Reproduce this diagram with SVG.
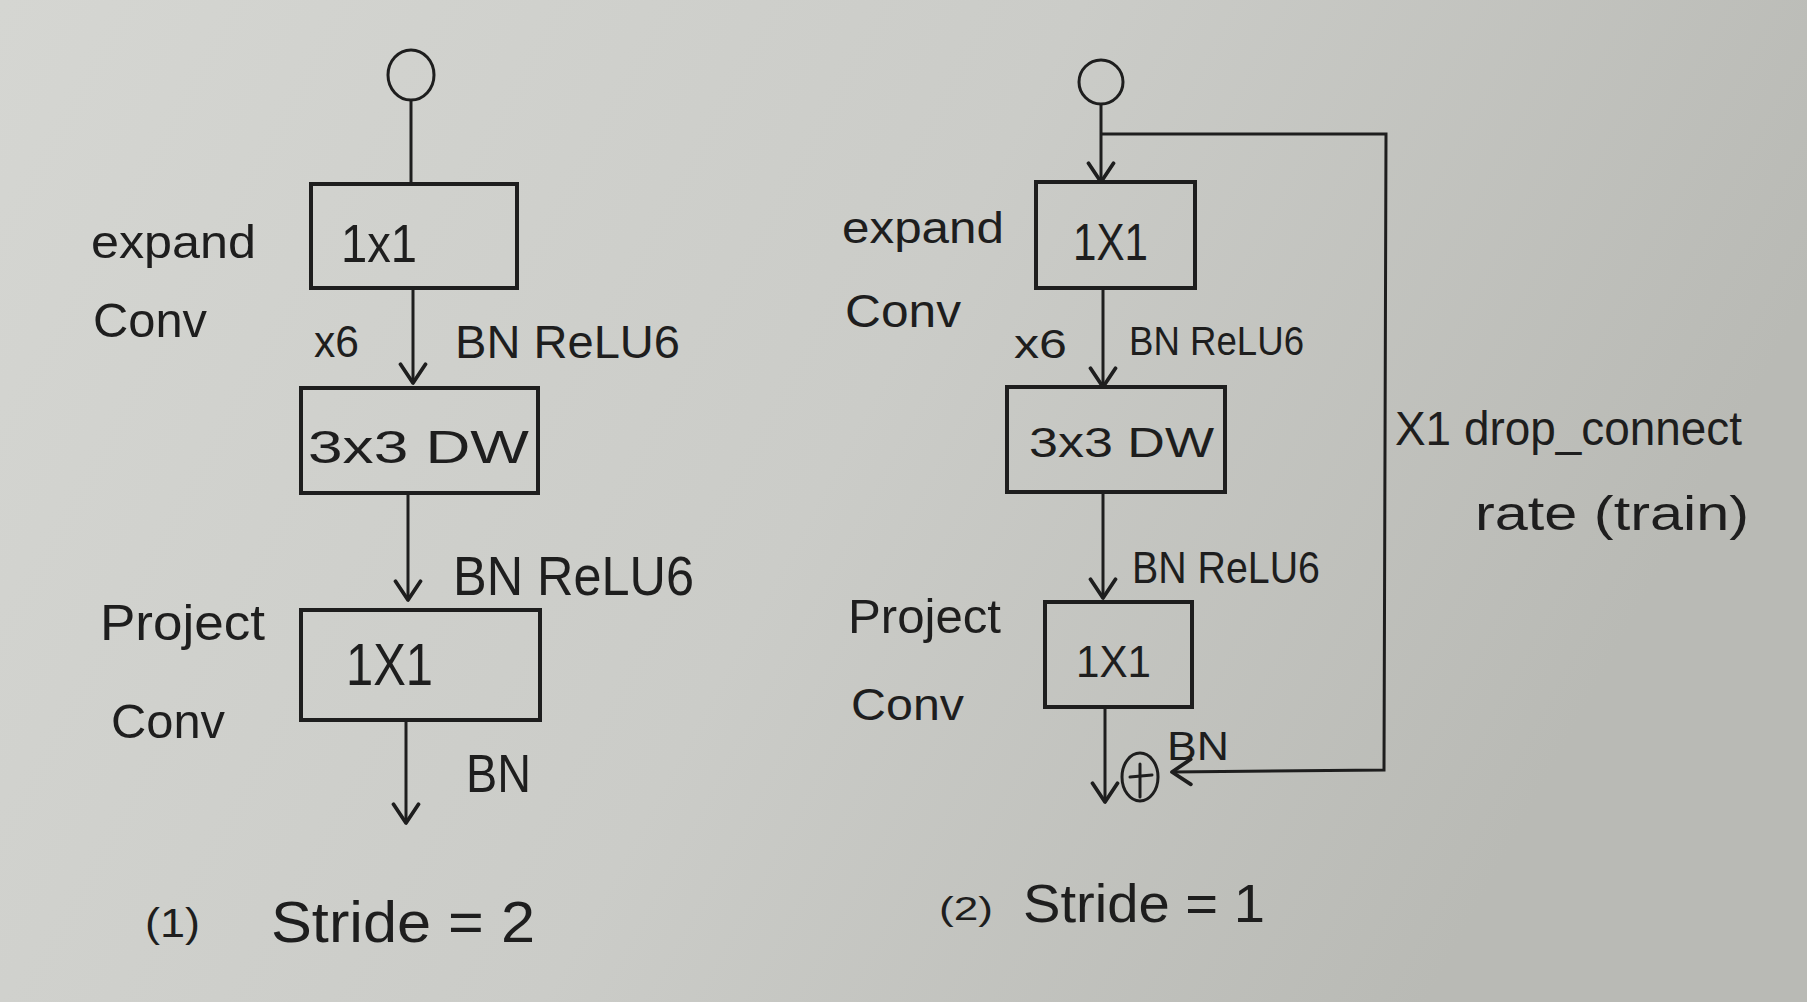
<svg xmlns="http://www.w3.org/2000/svg" width="1807" height="1002" viewBox="0 0 1807 1002">
  <defs>
    <linearGradient id="paper" x1="0" y1="0" x2="1" y2="0.3">
      <stop offset="0" stop-color="#d5d6d2"/>
      <stop offset="0.55" stop-color="#cbccc8"/>
      <stop offset="1" stop-color="#b9bab5"/>
    </linearGradient>
    <marker id="arr" markerUnits="userSpaceOnUse" markerWidth="30" markerHeight="30" viewBox="-16 -12 18 24" refX="0" refY="0" orient="auto">
      <path d="M-15,-10 L0,0 L-15,10" fill="none" stroke="#1e1e1e" stroke-width="3" stroke-linecap="round" stroke-linejoin="round"/>
    </marker>
    <style>
      .ink{fill:none;stroke:#1e1e1e;stroke-width:3;stroke-linecap:round;stroke-linejoin:round}
      .box{fill:none;stroke:#1e1e1e;stroke-width:4}
      .edge{fill:none;stroke:#1e1e1e;stroke-width:3}
      .t{font-family:"Liberation Sans","DejaVu Sans",sans-serif;fill:#1e1e1e}
    </style>
  </defs>
  <rect x="0" y="0" width="1807" height="1002" fill="url(#paper)"/>

  <g id="connectors">
    <line class="edge" x1="411" y1="100" x2="411" y2="184"/>
    <line class="edge" x1="413" y1="288" x2="413" y2="383" marker-end="url(#arr)"/>
    <line class="edge" x1="408" y1="493" x2="408" y2="600" marker-end="url(#arr)"/>
    <line class="edge" x1="406" y1="720" x2="406" y2="823" marker-end="url(#arr)"/>

    <line class="edge" x1="1101" y1="104" x2="1101" y2="182" marker-end="url(#arr)"/>
    <polyline class="edge" points="1101,134 1386,134 1384,770 1172,772" marker-end="url(#arr)"/>
    <line class="edge" x1="1103" y1="288" x2="1103" y2="387" marker-end="url(#arr)"/>
    <line class="edge" x1="1103" y1="492" x2="1103" y2="598" marker-end="url(#arr)"/>
    <line class="edge" x1="1105" y1="707" x2="1105" y2="802" marker-end="url(#arr)"/>
  </g>

  <!-- Left diagram -->
  <g id="l-input">
    <ellipse class="ink" cx="411" cy="75" rx="23" ry="25"/>
  </g>
  <g id="l-expand">
    <rect class="box" x="311" y="184" width="206" height="104"/>
    <text class="t" x="341" y="262" font-size="54" textLength="76" lengthAdjust="spacingAndGlyphs">1x1</text>
    <text class="t" x="91" y="258" font-size="46" textLength="165" lengthAdjust="spacingAndGlyphs">expand</text>
    <text class="t" x="93" y="337" font-size="48" textLength="114" lengthAdjust="spacingAndGlyphs">Conv</text>
    <text class="t" x="314" y="357" font-size="44" textLength="45" lengthAdjust="spacingAndGlyphs">x6</text>
    <text class="t" x="455" y="358" font-size="46" textLength="225" lengthAdjust="spacingAndGlyphs">BN  ReLU6</text>
  </g>
  <g id="l-dw">
    <rect class="box" x="301" y="388" width="237" height="105"/>
    <text class="t" x="308" y="463" font-size="46" textLength="221" lengthAdjust="spacingAndGlyphs">3x3 DW</text>
    <text class="t" x="453" y="595" font-size="56" textLength="241" lengthAdjust="spacingAndGlyphs">BN ReLU6</text>
  </g>
  <g id="l-project">
    <rect class="box" x="301" y="610" width="239" height="110"/>
    <text class="t" x="346" y="685" font-size="60" textLength="87" lengthAdjust="spacingAndGlyphs">1X1</text>
    <text class="t" x="100" y="640" font-size="50" textLength="165" lengthAdjust="spacingAndGlyphs">Project</text>
    <text class="t" x="111" y="738" font-size="48" textLength="114" lengthAdjust="spacingAndGlyphs">Conv</text>
    <text class="t" x="466" y="792" font-size="54" textLength="65" lengthAdjust="spacingAndGlyphs">BN</text>
  </g>
  <g id="l-caption">
    <text class="t" x="145" y="937" font-size="40" textLength="55" lengthAdjust="spacingAndGlyphs">(1)</text>
    <text class="t" x="271" y="942" font-size="58" textLength="264" lengthAdjust="spacingAndGlyphs">Stride = 2</text>
  </g>

  <!-- Right diagram -->
  <g id="r-input">
    <ellipse class="ink" cx="1101" cy="82" rx="22" ry="22"/>
  </g>
  <g id="r-expand">
    <rect class="box" x="1036" y="182" width="159" height="106"/>
    <text class="t" x="1073" y="260" font-size="52" textLength="75" lengthAdjust="spacingAndGlyphs">1X1</text>
    <text class="t" x="842" y="243" font-size="44" textLength="162" lengthAdjust="spacingAndGlyphs">expand</text>
    <text class="t" x="845" y="327" font-size="46" textLength="116" lengthAdjust="spacingAndGlyphs">Conv</text>
    <text class="t" x="1014" y="358" font-size="40" textLength="53" lengthAdjust="spacingAndGlyphs">x6</text>
    <text class="t" x="1129" y="355" font-size="40" textLength="175" lengthAdjust="spacingAndGlyphs">BN ReLU6</text>
  </g>
  <g id="r-dw">
    <rect class="box" x="1007" y="387" width="218" height="105"/>
    <text class="t" x="1029" y="457" font-size="42" textLength="185" lengthAdjust="spacingAndGlyphs">3x3 DW</text>
    <text class="t" x="1132" y="583" font-size="44" textLength="188" lengthAdjust="spacingAndGlyphs">BN ReLU6</text>
  </g>
  <g id="r-project">
    <rect class="box" x="1045" y="602" width="147" height="105"/>
    <text class="t" x="1076" y="677" font-size="44" textLength="75" lengthAdjust="spacingAndGlyphs">1X1</text>
    <text class="t" x="848" y="633" font-size="48" textLength="153" lengthAdjust="spacingAndGlyphs">Project</text>
    <text class="t" x="851" y="720" font-size="44" textLength="113" lengthAdjust="spacingAndGlyphs">Conv</text>
    <text class="t" x="1167" y="760" font-size="40" textLength="62" lengthAdjust="spacingAndGlyphs">BN</text>
  </g>
  <g id="r-add">
    <ellipse class="ink" cx="1140" cy="777" rx="18" ry="24"/>
    <line class="ink" x1="1140" y1="764" x2="1140" y2="797"/>
    <line class="ink" x1="1130" y1="777" x2="1152" y2="775"/>
  </g>
  <g id="r-skip-label">
    <text class="t" x="1395" y="445" font-size="48" textLength="347" lengthAdjust="spacingAndGlyphs">X1 drop_connect</text>
    <text class="t" x="1475" y="530" font-size="48" textLength="274" lengthAdjust="spacingAndGlyphs">rate (train)</text>
  </g>
  <g id="r-caption">
    <text class="t" x="939" y="920" font-size="34" textLength="54" lengthAdjust="spacingAndGlyphs">(2)</text>
    <text class="t" x="1023" y="922" font-size="54" textLength="242" lengthAdjust="spacingAndGlyphs">Stride = 1</text>
  </g>
</svg>
